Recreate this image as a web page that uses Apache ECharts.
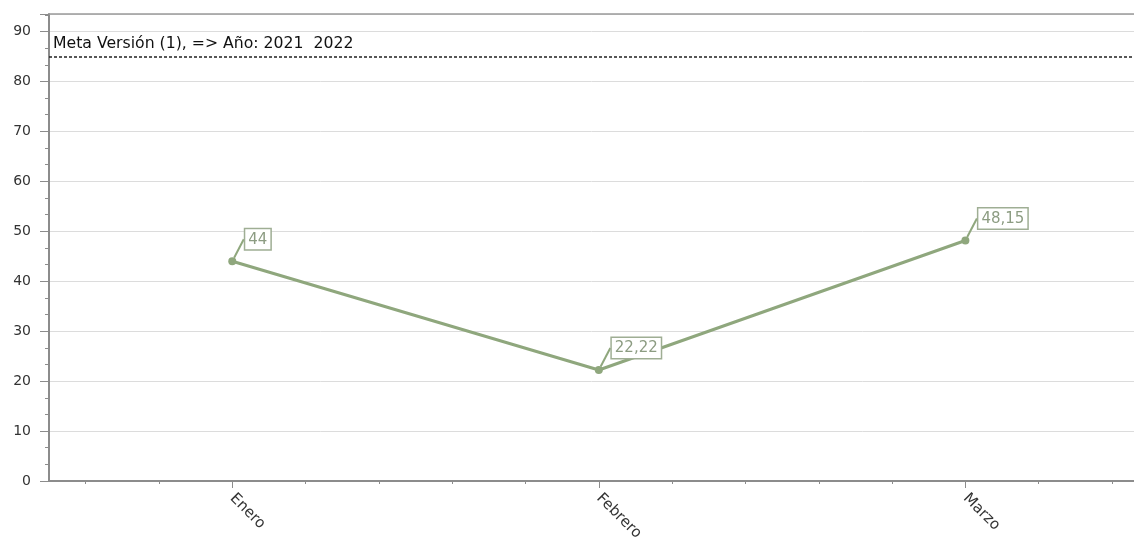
<!DOCTYPE html>
<html>
<head>
<meta charset="utf-8">
<script src="https://cdn.jsdelivr.net/npm/echarts@6/dist/echarts.min.js"></script>
<style>
  html, body { margin: 0; padding: 0; background: #fff; }
  #chart { width: 1134px; height: 550px; }
</style>
</head>
<body>
<div id="chart"></div>
<script>
// datos
const meses = ['Enero', 'Febrero', 'Marzo']
const valores = [44, 22.22, 48.15]
const meta = 85
const metaTexto = 'Meta Versión (1), => Año: 2021  2022'
const yTicks = [0, 10, 20, 30, 40, 50, 60, 70, 80, 90]

// posiciones de las marcas del eje x (1 = Enero, 2 = Febrero, 3 = Marzo)
const xMayores = meses.map((m, i) => i + 1)
const xMenores = []
for (let v = 0.6; v < 3.46; v += 0.2) {
  const r = Math.round(v * 10) / 10
  if (xMayores.indexOf(r) < 0) xMenores.push(r)
}

const fuente = 'DejaVu Sans'
const verde = '#8fa77d'
const gris = '#8c8c8c'
const xMin = 0.5
const xMax = 3.46 // el gráfico original queda cortado por la derecha

let chart = echarts.init(document.getElementById('chart'))

const option = {
  animation: false,
  grid: {
    left: 49,
    right: 0,
    top: 14,
    bottom: 69
  },
  xAxis: [
    {
      type: 'value',
      min: xMin,
      max: xMax,
      axisLine: { lineStyle: { color: gris, width: 2 } },
      axisTick: { customValues: xMayores, length: 7, lineStyle: { color: gris } },
      axisLabel: {
        customValues: xMayores,
        formatter: v => meses[Math.round(v) - 1] || '',
        rotate: -45,
        margin: 15,
        color: '#333',
        fontFamily: fuente,
        fontSize: 15
      },
      splitLine: { show: false }
    },
    {
      // marcas menores
      type: 'value',
      min: xMin,
      max: xMax,
      position: 'bottom',
      axisLine: { show: false },
      axisTick: { customValues: xMenores, length: 3, lineStyle: { color: gris } },
      axisLabel: { show: false },
      splitLine: { show: false }
    },
    {
      // borde superior
      type: 'value',
      min: xMin,
      max: xMax,
      position: 'top',
      axisLine: { show: true, lineStyle: { color: '#9a9a9a', width: 1.5 } },
      axisTick: { show: false },
      axisLabel: { show: false },
      splitLine: { show: false }
    }
  ],
  yAxis: {
    type: 'value',
    min: 0,
    max: 93.5,
    interval: 10,
    axisLine: { show: true, lineStyle: { color: gris, width: 2 } },
    axisTick: { show: true, length: 9, lineStyle: { color: gris } },
    minorTick: { show: true, splitNumber: 3, length: 4, lineStyle: { color: gris } },
    axisLabel: {
      customValues: yTicks,
      color: '#333',
      fontFamily: fuente,
      fontSize: 14,
      margin: 18
    },
    splitLine: { lineStyle: { color: '#dcdcdc', width: 1 } }
  },
  series: [
    {
      type: 'line',
      xAxisIndex: 0,
      data: valores.map((v, i) => [i + 1, v]),
      symbol: 'circle',
      symbolSize: 8,
      itemStyle: { color: verde },
      lineStyle: { color: verde, width: 3 },
      label: {
        show: true,
        formatter: p => String(p.value[1]).replace('.', ','),
        color: '#8c9c82',
        fontFamily: fuente,
        fontSize: 15,
        backgroundColor: '#fff',
        borderColor: '#9fae94',
        borderWidth: 1.5,
        padding: [3, 3, 2, 3]
      },
      labelLayout: p => ({
        x: p.rect.x + p.rect.width / 2 + 13,
        y: p.rect.y + p.rect.height / 2 - 12,
        align: 'left',
        verticalAlign: 'bottom'
      }),
      labelLine: { show: true, lineStyle: { color: verde, width: 2 } },
      markLine: {
        silent: true,
        symbol: ['none', 'none'],
        data: [{ yAxis: meta }],
        lineStyle: { color: '#222', type: [3, 2], width: 1.5 },
        label: {
          position: 'insideStartTop',
          formatter: metaTexto,
          color: '#111',
          fontFamily: fuente,
          fontSize: 15.7,
          distance: [4, 5]
        }
      }
    }
  ]
}

chart.setOption(option)
</script>
</body>
</html>
